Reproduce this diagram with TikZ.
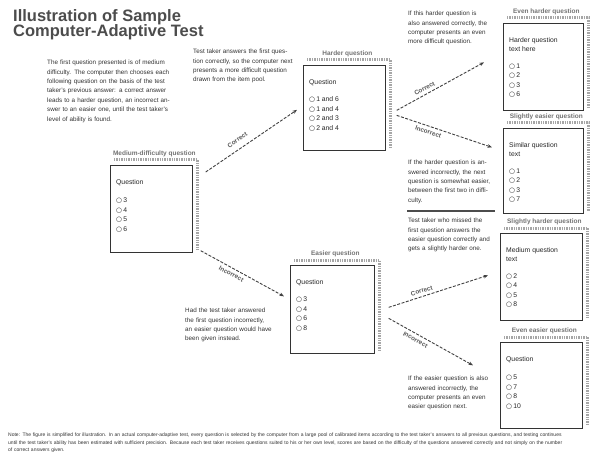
\documentclass[tikz,border=0pt]{standalone}
\usepackage{fontspec}
\setmainfont{Liberation Sans}
\newfontfamily\symf{DejaVu Sans}
\usetikzlibrary{calc,arrows.meta}
\newcommand\opt[1]{{\symf\bfseries ○}\,#1}
\tikzset{
  qbox/.style={draw=black!80, line width=0.7pt, anchor=north west, inner sep=0pt},
  shadowline/.style={draw=black!35, line width=3pt, dash pattern=on 1.4pt off 1pt},
  hdr/.style={font=\fontsize{6.5}{7}\selectfont\bfseries, text=black!55, inner sep=0pt},
  qtext/.style={font=\fontsize{6.8}{9.5}\selectfont, align=left, anchor=north west, inner sep=0pt, text=black!85},
  note/.style={font=\fontsize{6.3}{9.4}\selectfont, align=left, anchor=north west, inner sep=0pt, text=black!80},
  link/.style={draw=black!75, line width=0.9pt, dash pattern=on 3pt off 1.5pt, -{Stealth[length=4.5pt,width=3.5pt]}},
  lab/.style={font=\fontsize{6.3}{7}\selectfont\bfseries, text=black!65, inner sep=1pt, sloped}
}
\newcommand\mkqbox[7]{%
  \node[qbox, minimum width=#4pt, minimum height=#5pt] (#1) at (#2,464-#3) {};
  \draw[shadowline] ($(#1.north west)+(4,5)$) -- ($(#1.north east)+(5,5)$) -- ($(#1.south east)+(5,3)$);
  \node[hdr, anchor=south] (#1h) at ($(#1.north)+(3,8)$) {#6};
  \node[qtext] (#1t) at ($(#1.north west)+(6,-14)$) {#7};
}
\begin{document}
\begin{tikzpicture}[x=1pt,y=1pt]
\useasboundingbox (0,0) rectangle (591,464);
\fill[white] (0,0) rectangle (591,464);

% title
\node[anchor=north west, align=left, inner sep=0pt, text=black!70,
      font=\fontsize{16.5}{15.5}\selectfont\bfseries] (title) at (13,464-9)
  {Illustration of Sample\\Computer-Adaptive Test};

% text blocks
\node[note, text width=125pt] (intro) at (47,464-60)
  {The first question presented is of medium difficulty. The computer then chooses each following question on the basis of the test taker's previous answer: a correct answer leads to a harder question, an incorrect answer to an easier one, until the test taker's level of ability is found.};
\node[note, text width=100pt] (tmid) at (193,464-49)
  {Test taker answers the first question correctly, so the computer next presents a more difficult question drawn from the item pool.};
\node[note, text width=80pt] (tright) at (408,464-11)
  {If this harder question is also answered correctly, the computer presents an even more difficult question.};
\node[note, text width=86pt] (mright) at (408,464-160)
  {If the harder question is answered incorrectly, the next question is somewhat easier, between the first two in difficulty.};
\coordinate (ruleL) at (407,464-211);
\coordinate (ruleR) at (495,464-211);
\draw[line width=1.1pt, black!70] (ruleL) -- (ruleR);
\node[note, text width=84pt] (lmright) at (408,464-218)
  {Test taker who missed the first question answers the easier question correctly and gets a slightly harder one.};
\node[note, text width=85pt] (bright) at (408,464-376)
  {If the easier question is also answered incorrectly, the computer presents an even easier question next.};
\node[note, text width=87pt] (bleft) at (185,464-308)
  {Had the test taker answered the first question incorrectly, an easier question would have been given instead.};
\node[anchor=north west, align=left, inner sep=0pt, text width=555pt, text=black!80,
      font=\fontsize{5}{7.2}\selectfont] (foot) at (8,464-433)
  {Note: The figure is simplified for illustration. In an actual computer-adaptive test, every question is selected by the computer from a large pool of calibrated items according to the test taker's answers to all previous questions, and testing continues until the test taker's ability has been estimated with sufficient precision. Because each test taker receives questions suited to his or her own level, scores are based on the difficulty of the questions answered correctly and not simply on the number of correct answers given.};

% question boxes
\mkqbox{b1}{110}{165}{82}{87}{Medium-difficulty question}
  {Question\\[9pt]\opt{3}\\\opt{4}\\\opt{5}\\\opt{6}}
\mkqbox{b2}{303}{65}{82}{85}{Harder question}
  {Question\\[8pt]\opt{1 and 6}\\\opt{1 and 4}\\\opt{2 and 3}\\\opt{2 and 4}}
\mkqbox{b3}{290}{265}{84}{88}{Easier question}
  {Question\\[8pt]\opt{3}\\\opt{4}\\\opt{6}\\\opt{8}}
\mkqbox{bA}{503}{23}{80}{87}{Even harder question}
  {Harder question\\text here\\[7pt]\opt{1}\\\opt{2}\\\opt{3}\\\opt{6}}
\mkqbox{bB}{503}{128}{80}{85}{Slightly easier question}
  {Similar question\\text\\[7pt]\opt{1}\\\opt{2}\\\opt{3}\\\opt{7}}
\mkqbox{bC}{500}{233}{82}{87}{Slightly harder question}
  {Medium question\\text\\[7pt]\opt{2}\\\opt{4}\\\opt{5}\\\opt{8}}
\mkqbox{bD}{500}{342}{82}{86}{Even easier question}
  {Question\\[9pt]\opt{5}\\\opt{7}\\\opt{8}\\\opt{10}}

% connectors
\draw[link] ($(b1.north east)+(13,-7)$) -- node[lab, above=5pt, pos=0.4]{Correct} ($(b2.west)+(-6,-2)$);
\draw[link] ($(b1.south east)+(8,2)$) -- node[lab, below=2pt, pos=0.4]{Incorrect} ($(b3.west)+(-6,13)$);
\draw[link] ($(b2.east)+(11,-2.5)$) -- node[lab, above=2pt, pos=0.35]{Correct} ($(bA.west)+(-19,4.5)$);
\draw[link] ($(b2.east)+(11,-7.5)$) -- node[lab, below=2pt, pos=0.35]{Incorrect} ($(bB.west)+(-11,23.5)$);
\draw[link] ($(b3.east)+(14,2)$) -- node[lab, above=2pt, pos=0.35]{Correct} ($(bC.west)+(-12,1.5)$);
\draw[link] ($(b3.east)+(14,-9)$) -- node[lab, below=2pt, pos=0.35]{Incorrect} ($(bD.west)+(-27,20)$);
\end{tikzpicture}
\end{document}
